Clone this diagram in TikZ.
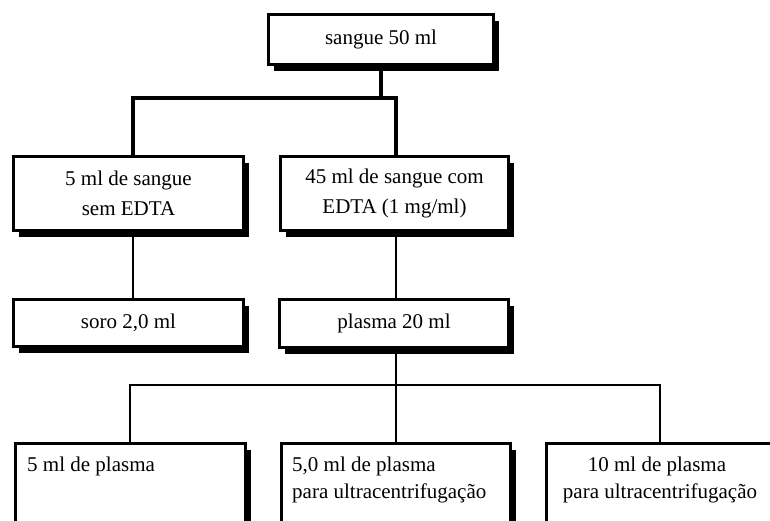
\documentclass[tikz,border=0pt]{standalone}
\usepackage{fontspec}
\setmainfont{Liberation Serif}
\usetikzlibrary{shadows}
\begin{document}
\begin{tikzpicture}[x=1pt,y=-1pt,
  caixa/.style={rectangle, draw=black, line width=3.4pt, fill=white, inner sep=0pt,
    font=\fontsize{21}{30}\selectfont, align=center,
    general shadow={fill=black, shadow xshift=5.5pt, shadow yshift=-6.5pt}},
  grossa/.style={line width=3.2pt},
  fina/.style={line width=2pt},
  rotulo/.style={font=\fontsize{21}{27}\selectfont, inner sep=0pt}]
\useasboundingbox (0,0) rectangle (770,521);
\clip (0,0) rectangle (770,521);

% first level
\node[caixa, minimum width=225, minimum height=50] (sangue) at (381,39.5) {sangue 50 ml};

% second level
\node[caixa, minimum width=230, minimum height=74] (sem) at (128.5,193.5)
  {5 ml de sangue\\sem EDTA};
\node[caixa, minimum width=228, minimum height=74] (com) at (394.5,193.5)
  {45 ml de sangue com\\EDTA (1 mg/ml)};

% third level
\node[caixa, minimum width=230, minimum height=47] (soro) at (128.5,323) {soro 2,0 ml};
\node[caixa, minimum width=229, minimum height=48] (plasma) at (394,323.5) {plasma 20 ml};

% fourth level (boxes run past the lower edge)
\node[caixa, minimum width=230, minimum height=110, anchor=north west] (p1) at (13.5,441.5) {};
\node[caixa, minimum width=229, minimum height=110, anchor=north west] (p2) at (279.5,441.5) {};
\node[caixa, minimum width=260, minimum height=110, anchor=north west] (p3) at (544.5,441.5) {};

\node[rotulo, anchor=base west] (t1) at (27,471) {5 ml de plasma};
\node[rotulo, anchor=base west] (t2a) at (292,471) {5,0 ml de plasma};
\node[rotulo, anchor=base west] (t2b) at (292,498) {para ultracentrifugação};
\node[rotulo, anchor=base] (t3a) at (657,471) {10 ml de plasma};
\node[rotulo, anchor=base] (t3b) at (660,498) {para ultracentrifugação};

% junction points
\coordinate (ja) at (133,98);
\coordinate (jb) at (396,98);
\coordinate (jc) at (130,385);
\coordinate (jd) at (396,385);
\coordinate (je) at (660,385);

% connectors
\draw[grossa] (sangue.south) -- (sangue.south |- ja);
\draw[grossa] (sem.north -| ja) -- (ja) -- (jb) -- (com.north -| jb);
\draw[fina] (sem.south -| ja) -- (soro.north -| ja);
\draw[fina] (com.south -| jb) -- (plasma.north -| jb);
\draw[fina] (plasma.south -| jd) -- (jd);
\draw[fina] (p1.north -| jc) -- (jc) -- (je) -- (p3.north -| je);
\draw[fina] (jd) -- (p2.north -| jd);
\end{tikzpicture}
\end{document}
